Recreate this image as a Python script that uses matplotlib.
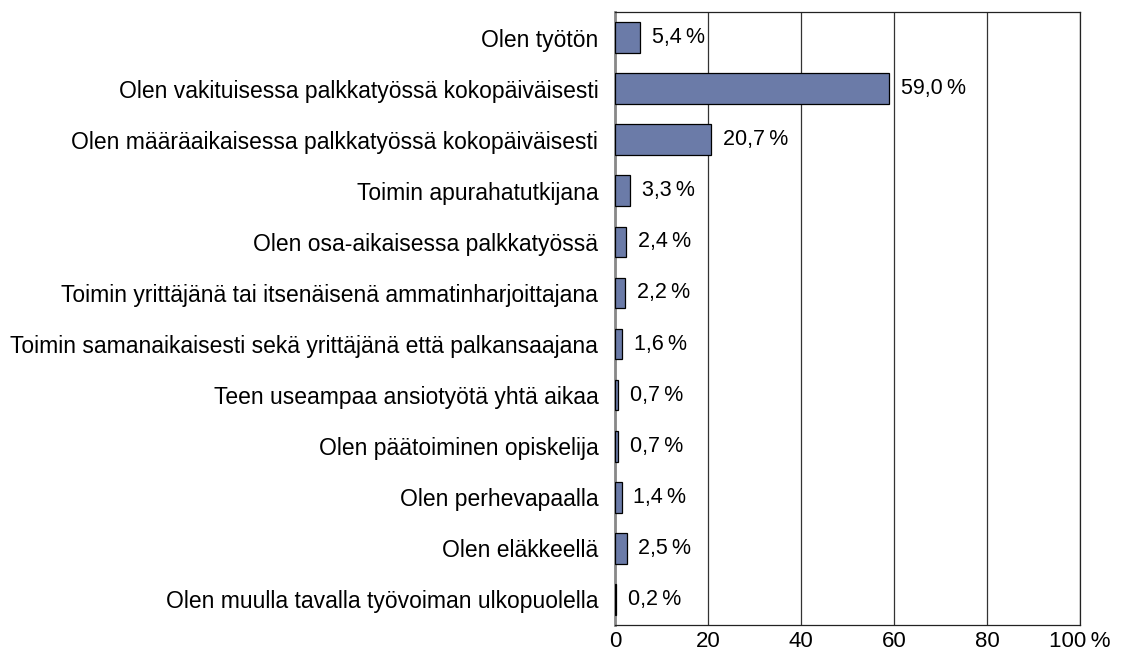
import matplotlib
matplotlib.use("Agg")
import matplotlib.pyplot as plt

categories = [
    "Olen työtön",
    "Olen vakituisessa palkkatyössä kokopäiväisesti",
    "Olen määräaikaisessa palkkatyössä kokopäiväisesti",
    "Toimin apurahatutkijana",
    "Olen osa-aikaisessa palkkatyössä",
    "Toimin yrittäjänä tai itsenäisenä ammatinharjoittajana",
    "Toimin samanaikaisesti sekä yrittäjänä että palkansaajana",
    "Teen useampaa ansiotyötä yhtä aikaa",
    "Olen päätoiminen opiskelija",
    "Olen perhevapaalla",
    "Olen eläkkeellä",
    "Olen muulla tavalla työvoiman ulkopuolella",
]
values = [5.4, 59.0, 20.7, 3.3, 2.4, 2.2, 1.6, 0.7, 0.7, 1.4, 2.5, 0.2]
xticks = [0, 20, 40, 60, 80, 100]
xticklabels = ["0", "20", "40", "60", "80", "100\u2009%"]

plt.rcParams['font.family'] = ['Liberation Sans', 'DejaVu Sans']

fig = plt.figure(figsize=(11.35, 6.53), dpi=100)
ax = fig.add_axes([615/1135, 1 - 625/653, (1080-615)/1135, (625-12)/653])

y = list(range(len(categories)))
ax.barh(y, values, height=0.6, color="#6b7ba8", edgecolor="black", linewidth=0.9, zorder=3)
for yi, v in zip(y, values):
    ax.annotate(f"{v:.1f}".replace(".", ",") + "\u2009%", xy=(v, yi), xytext=(8.5, 0),
                textcoords="offset points", va="center", ha="left", fontsize=15.5)

ax.set_xlim(0, 100)
ax.set_ylim(len(categories) - 0.5, -0.5)
ax.set_yticks(y)
ax.set_yticklabels(categories, fontsize=16.5)
ax.set_xticks(xticks)
ax.set_xticklabels(xticklabels, fontsize=16)
ax.tick_params(axis="both", length=0)
ax.tick_params(axis="y", pad=12)
ax.tick_params(axis="x", pad=4)
ax.xaxis.grid(True, color="#333333", linewidth=0.9, zorder=0)
for s in ["top", "right", "bottom"]:
    ax.spines[s].set_color("#222222")
    ax.spines[s].set_linewidth(0.9)
ax.spines["left"].set_color("#888888")
ax.spines["left"].set_linewidth(2.0)

fig.savefig("out.png", dpi=100)
